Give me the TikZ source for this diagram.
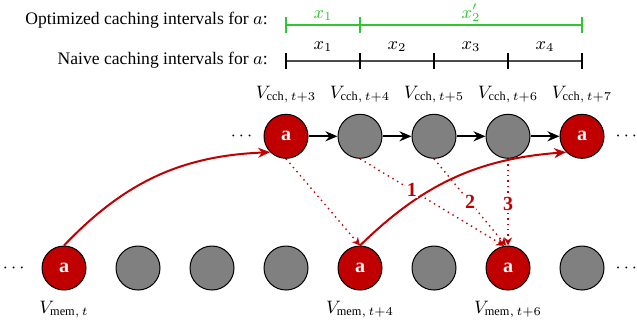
\documentclass[tikz,border=0pt]{standalone}
\usepackage{fontspec}
\setmainfont{Liberation Serif}
\usepackage{amsmath}
\usetikzlibrary{arrows.meta, positioning}
\definecolor{cachered}{RGB}{192,0,0}
\definecolor{cachegreen}{RGB}{46,200,46}
\definecolor{slotgray}{RGB}{128,128,128}

\begin{document}
\begin{tikzpicture}[x=37pt,y=37pt,
    every node/.style={font=\fontsize{8.8}{10}\selectfont},
    slot/.style={circle,draw=black,line width=0.5pt,fill=slotgray,minimum size=22pt,inner sep=0pt},
    hit/.style={slot,fill=cachered,text=white,font=\fontsize{10}{10}\selectfont\bfseries},
    chain/.style={-{Stealth[length=6pt,width=5pt]},line width=1pt},
    load/.style={cachered,-{Stealth[length=6pt,width=5pt]},line width=1pt},
    evict/.style={cachered,dotted,line width=0.7pt,-{Stealth[length=4pt,width=4pt]}},
    num/.style={text=cachered,font=\fontsize{10}{10}\selectfont\bfseries,fill=white,inner sep=0.5pt},
    tick/.style={line width=1.2pt}]
    \useasboundingbox (-0.865,-0.797) rectangle (7.743,3.622);
    % memory row
    \node[hit] (m0) at (0,0) {a};
    \foreach \i in {1,2,3,5,7} \node[slot] (m\i) at (\i,0) {};
    \node[hit] (m4) at (4,0) {a};
    \node[hit] (m6) at (6,0) {a};
    \node (ml) at (-0.66,0) {$\cdots$};
    \node (mr) at (7.62,0) {$\cdots$};
    \node[below=2pt of m0] (lm0) {$V_{\mathrm{mem},\,t}$};
    \node[below=2pt of m4] (lm4) {$V_{\mathrm{mem},\,t+4}$};
    \node[below=2pt of m6] (lm6) {$V_{\mathrm{mem},\,t+6}$};
    % cache row
    \node[hit] (c3) at (3,1.78) {a};
    \foreach \i in {4,5,6} \node[slot] (c\i) at (\i,1.78) {};
    \node[hit] (c7) at (7,1.78) {a};
    \node (cl) at (2.42,1.78) {$\cdots$};
    \node (cr) at (7.62,1.78) {$\cdots$};
    \foreach \i in {3,...,7} \node[above=2pt of c\i] (lc\i) {$V_{\mathrm{cch},\,t+\i}$};
    \foreach \i/\j in {3/4,4/5,5/6,6/7} \draw[chain] (c\i) -- (c\j);
    % loads and evictions
    \draw[load] (m0.north) to[bend left=22] (c3.south west);
    \draw[load] (m4.north) to[bend left=20] (c7.south west);
    \draw[evict] (c3.south) -- (m4.north);
    \draw[evict] (c4.south) -- (m6.100) node[num,pos=0.36] {1};
    \draw[evict] (c5.south) -- (m6.95) node[num,pos=0.5] {2};
    \draw[evict] (c6.south) -- (m6.north) node[num,pos=0.52] {3};
    % naive intervals
    \foreach \i in {3,...,7} \coordinate (n\i) at (\i,2.80);
    \draw[line width=0.9pt,black!70] (n3) -- (n7);
    \foreach \i in {3,...,7} \draw[tick] (n\i) ++(0,-4pt) -- ++(0,8pt);
    \foreach \i/\j/\k in {3/4/1,4/5/2,5/6/3,6/7/4} \path (n\i) -- (n\j) node[midway,above=1pt] (xn\k) {$x_{\k}$};
    \node[anchor=east] (naive) at (2.85,2.81) {Naive caching intervals for $a$:};
    % optimized intervals
    \foreach \i in {3,4,7} \coordinate (o\i) at (\i,3.28);
    \draw[line width=0.9pt,cachegreen] (o3) -- (o7);
    \foreach \i in {3,4,7} \draw[tick,cachegreen] (o\i) ++(0,-4pt) -- ++(0,8pt);
    \path (o3) -- (o4) node[midway,above=-1pt,text=cachegreen] (xo1) {$x_1$};
    \path (o4) -- (o7) node[midway,above=-1.5pt,text=cachegreen] (xo2) {$x_2'$};
    \node[anchor=east] (opt) at (2.85,3.35) {Optimized caching intervals for $a$:};
\end{tikzpicture}
\end{document}
